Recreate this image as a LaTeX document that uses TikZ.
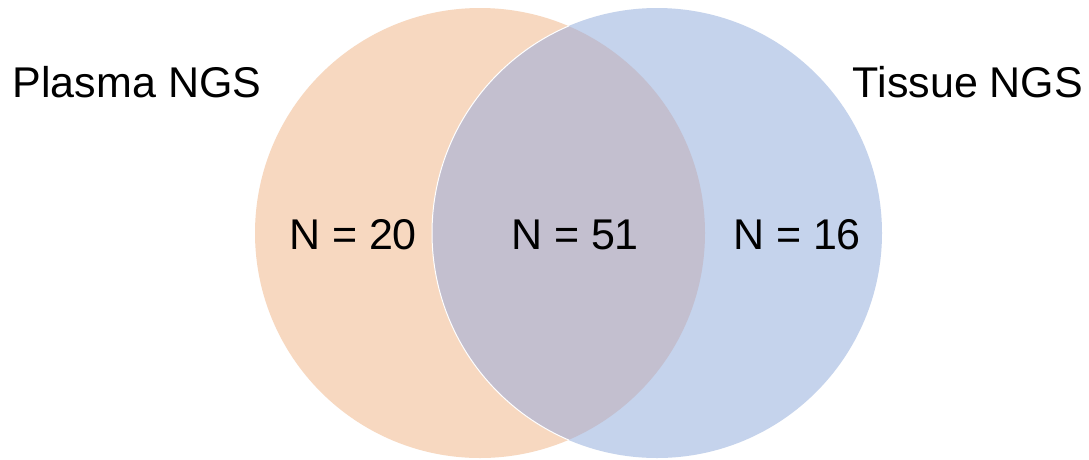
\documentclass[tikz,border=0pt]{standalone}
\usepackage{fontspec}
\setmainfont{Liberation Sans}
\definecolor{peach}{HTML}{F7D8C0}
\definecolor{lblue}{HTML}{C5D3EC}
\definecolor{overl}{HTML}{C3BFCF}
\begin{document}
\begin{tikzpicture}[x=1pt,y=-1pt,
  lbl/.style={anchor=base,inner sep=0pt,font=\fontsize{43}{50}\selectfont}]
\useasboundingbox (0,0) rectangle (1089,459);
\fill[white] (0,0) rectangle (1089,459);
\coordinate (cl) at (480,233);
\coordinate (cr) at (657,233);
\fill[peach] (cl) circle (225);
\fill[lblue] (cr) circle (225);
\begin{scope}
  \clip (cl) circle (225);
  \fill[overl] (cr) circle (225);
\end{scope}
\begin{scope}
  \clip (cl) circle (225);
  \draw[white,line width=1pt] (cr) circle (225);
\end{scope}
\node[lbl] (plasma) at (137,97) {Plasma NGS};
\node[lbl] (tissue) at (968,97) {Tissue NGS};
\node[lbl] (n20) at (353,249) {N = 20};
\node[lbl] (n51) at (575,249) {N = 51};
\node[lbl] (n16) at (797,249) {N = 16};
\end{tikzpicture}
\end{document}
